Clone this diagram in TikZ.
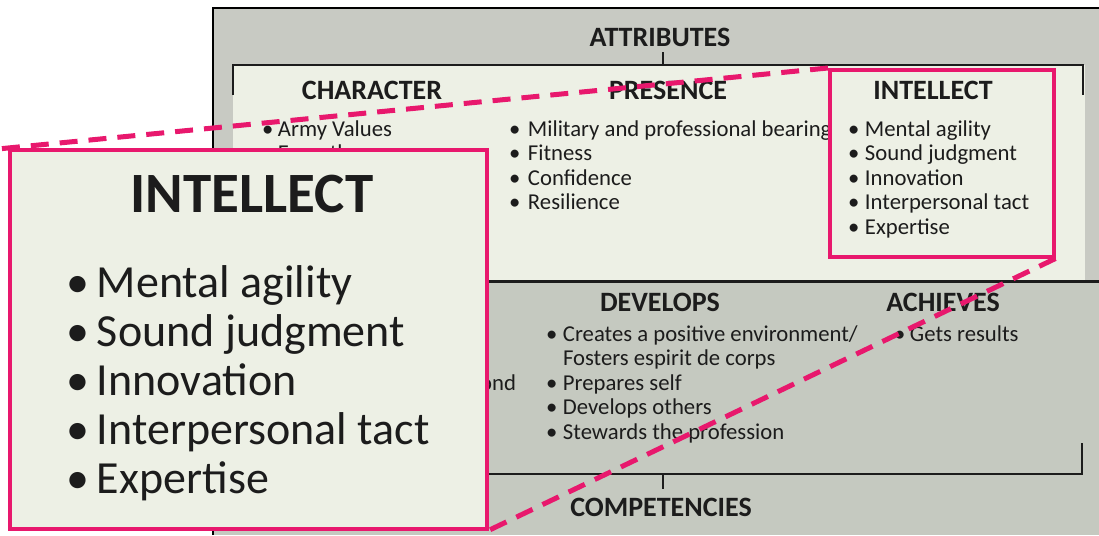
\documentclass[tikz,border=0pt]{standalone}
\usepackage{fontspec}
\setmainfont{Carlito}
\definecolor{callpink}{HTML}{E8186D}
\definecolor{panel}{HTML}{C8CAC3}
\definecolor{lightbox}{HTML}{EDF0E5}
\definecolor{lowpanel}{HTML}{C5C9C0}
\definecolor{ink}{HTML}{1C1C1C}
\begin{document}
\begin{tikzpicture}[x=1pt,y=-1pt,
  txt/.style={inner sep=0pt, outer sep=0pt, text=ink},
  hdr/.style={txt, font=\fontsize{28}{30}\selectfont\bfseries, anchor=base},
  bighdr/.style={txt, font=\fontsize{57}{60}\selectfont\bfseries, anchor=base},
  item/.style={txt, font=\fontsize{22.7}{24.5}\selectfont, anchor=base west},
  bigitem/.style={txt, font=\fontsize{46}{49}\selectfont, anchor=base west},
  brk/.style={draw=ink, line width=1.5pt},
  zoombox/.style={draw=callpink, line width=3.5pt, fill=lightbox, inner sep=0pt, anchor=north west},
  zoomline/.style={draw=callpink, line width=5pt, dash pattern=on 18pt off 11pt},
]
\useasboundingbox (0,0) rectangle (1099,535);
\fill[white] (0,0) rectangle (1099,535);
% main panel
\fill[panel] (213,8) rectangle (1099,535);
\fill[lowpanel] (213,281) rectangle (1099,535);
\fill[lightbox] (233,65) rectangle (1085,281);
\draw[line width=2.5pt, black] (213,535) -- (213,8) -- (1099,8);
\draw[line width=3pt, ink] (233,281) -- (1099,281);

% attributes
\node[hdr] (attr) at (660,47) {ATTRIBUTES};
\coordinate (topbr) at (663,65);
\draw[brk] ([yshift=-5pt]attr.south -| topbr) -- (topbr);
\draw[brk] (233,95) -- (233,65) -- (1083,65) -- (1083,95);

\node[hdr] (char) at (372,99) {CHARACTER};
\node[hdr] (pres) at (668,99) {PRESENCE};
\node[item] (c1) at (262,136) {\makebox[16pt][l]{•}Army Values};
\node[item] (c2) at (262,160.5) {\makebox[16pt][l]{•}Empathy};

\node[item] (p1) at (509,136) {\makebox[19pt][l]{•}Military and professional bearing};
\node[item] (p2) at (509,160.5) {\makebox[19pt][l]{•}Fitness};
\node[item] (p3) at (509,185) {\makebox[19pt][l]{•}Confidence};
\node[item] (p4) at (509,209.5) {\makebox[19pt][l]{•}Resilience};

% competencies
\node[hdr] (dev) at (660,311) {DEVELOPS};
\node[hdr] (ach) at (943,311) {ACHIEVES};
\node[item, anchor=base east] (l3) at (516,390) {ond};

\node[item] (d1) at (546,341) {\makebox[17pt][l]{•}Creates a positive environment/};
\node[item] (d1b) at (563,365.5) {Fosters espirit de corps};
\node[item] (d2) at (546,390) {\makebox[17pt][l]{•}Prepares self};
\node[item] (d3) at (546,414.5) {\makebox[17pt][l]{•}Develops others};
\node[item] (d4) at (546,439) {\makebox[17pt][l]{•}Stewards the profession};
\node[item] (a1) at (894,341) {\makebox[16pt][l]{•}Gets results};

\draw[brk] (233,443) -- (233,474) -- (1082,474) -- (1082,443);
\coordinate (botbr) at (663,474);
\node[hdr] (comp) at (661,516) {COMPETENCIES};
\draw[brk] (botbr) -- ([yshift=9pt]comp.north -| botbr);

% small intellect box
\node[zoombox, minimum width=224pt, minimum height=187pt] (smallbox) at (828,68) {};
\node[hdr] (sint) at (933,99) {INTELLECT};
\node[item] (s1) at (848,136) {\makebox[17pt][l]{•}Mental agility};
\node[item] (s2) at (848,160.5) {\makebox[17pt][l]{•}Sound judgment};
\node[item] (s3) at (848,185) {\makebox[17pt][l]{•}Innovation};
\node[item] (s4) at (848,209.5) {\makebox[17pt][l]{•}Interpersonal tact};
\node[item] (s5) at (848,234) {\makebox[17pt][l]{•}Expertise};

% callout
\node[zoombox, minimum width=477pt, minimum height=379pt] (callout) at (8,148) {};
\draw[zoomline, shorten >=-12pt] (smallbox.north west) -- (callout.north west);
\draw[zoomline] (smallbox.south east) -- (callout.south east);
\node[bighdr] (bint) at (252,212) {INTELLECT};
\node[bigitem] (b1) at (66,297) {\makebox[31pt][l]{•}Mental agility};
\node[bigitem] (b2) at (66,346) {\makebox[31pt][l]{•}Sound judgment};
\node[bigitem] (b3) at (66,395) {\makebox[31pt][l]{•}Innovation};
\node[bigitem] (b4) at (66,444) {\makebox[31pt][l]{•}Interpersonal tact};
\node[bigitem] (b5) at (66,493) {\makebox[31pt][l]{•}Expertise};
\end{tikzpicture}
\end{document}
